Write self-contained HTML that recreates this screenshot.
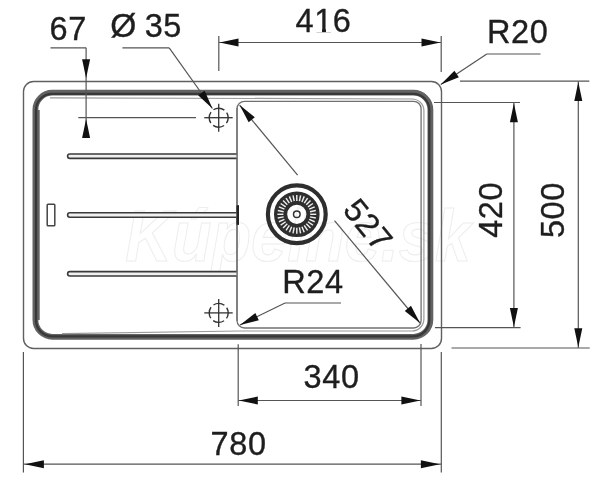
<!DOCTYPE html>
<html><head><meta charset="utf-8"><style>
html,body{margin:0;padding:0;background:#fff;width:600px;height:489px;overflow:hidden}
svg{display:block;filter:grayscale(1) blur(0.3px)}
text{font-family:"Liberation Sans",sans-serif;fill:#1e1e1e;stroke:#1e1e1e;stroke-width:0.35px;letter-spacing:0.6px}
</style></head><body>
<svg width="600" height="489" viewBox="0 0 600 489">
<text x="0" y="0" font-size="72" font-style="italic" font-weight="bold" text-anchor="middle" transform="translate(298,261) scale(0.9,1)" style="fill:none;stroke:#eeeeee;stroke-width:1.1;letter-spacing:0">Kúpelne.sk</text>
<rect x="23.5" y="81.5" width="418" height="267" rx="10" fill="none" stroke="#606060" stroke-width="1.4"/>
<rect x="35.4" y="92.7" width="395" height="244.1" rx="17" fill="none" stroke="#626262" stroke-width="5.8"/>
<line x1="38.7" y1="110" x2="38.7" y2="320" stroke="#606060" stroke-width="2"/>
<rect x="36.0" y="93.9" width="393.3" height="242.4" rx="16" fill="none" stroke="#383838" stroke-width="2.2"/>
<path d="M50,97.8 L412,99.0 A11.9,11.5 0 0 1 423.9,110.5 V319.1 A11.9,11.9 0 0 1 412,331 L240,331 L62,333.6" fill="none" stroke="#9a9a9a" stroke-width="1.2"/>
<rect x="237" y="101.3" width="184.1" height="226.7" rx="7.5" fill="none" stroke="#707070" stroke-width="1.3"/>
<rect x="236.6" y="205.4" width="2.4" height="19.3" fill="#222"/>
<path d="M237,154.00 H69.8 A2.2,2.2 0 0 0 69.8,158.40 H237" fill="#f0f0f0" stroke="#3a3a3a" stroke-width="1.6"/>
<path d="M237,212.80 H69.8 A2.2,2.2 0 0 0 69.8,217.20 H237" fill="#f0f0f0" stroke="#3a3a3a" stroke-width="1.6"/>
<path d="M237,271.60 H69.8 A2.2,2.2 0 0 0 69.8,276.00 H237" fill="#f0f0f0" stroke="#3a3a3a" stroke-width="1.6"/>
<line x1="237" y1="108" x2="237" y2="321" stroke="#707070" stroke-width="1.3"/>
<rect x="236.6" y="205.4" width="2.4" height="19.3" fill="#222"/>
<rect x="47.2" y="204.2" width="7.6" height="21.6" rx="0.8" fill="none" stroke="#444" stroke-width="1.5"/>
<circle cx="218.7" cy="117.7" r="9.5" fill="none" stroke="#333" stroke-width="1.4" stroke-dasharray="11.6 3.32" stroke-dashoffset="5.8"/>
<line x1="218.7" y1="103.7" x2="218.7" y2="131.7" stroke="#333" stroke-width="1.3"/>
<line x1="204.29999999999998" y1="117.7" x2="232.7" y2="117.7" stroke="#333" stroke-width="1.3"/>
<circle cx="218.7" cy="312.9" r="9.5" fill="none" stroke="#333" stroke-width="1.4" stroke-dasharray="11.6 3.32" stroke-dashoffset="5.8"/>
<line x1="218.7" y1="298.9" x2="218.7" y2="326.9" stroke="#333" stroke-width="1.3"/>
<line x1="204.29999999999998" y1="312.9" x2="232.7" y2="312.9" stroke="#333" stroke-width="1.3"/>
<circle cx="296.8" cy="214.3" r="28.9" fill="none" stroke="#2e2e2e" stroke-width="4.2"/>
<circle cx="296.8" cy="214.3" r="16.2" fill="none" stroke="#2e2e2e" stroke-width="13.2"/>
<line x1="310.20" y1="214.30" x2="316.20" y2="214.30" stroke="#eeeeee" stroke-width="1.45"/>
<line x1="309.94" y1="216.91" x2="315.83" y2="218.08" stroke="#eeeeee" stroke-width="1.45"/>
<line x1="309.18" y1="219.43" x2="314.72" y2="221.72" stroke="#eeeeee" stroke-width="1.45"/>
<line x1="307.94" y1="221.74" x2="312.93" y2="225.08" stroke="#eeeeee" stroke-width="1.45"/>
<line x1="306.28" y1="223.78" x2="310.52" y2="228.02" stroke="#eeeeee" stroke-width="1.45"/>
<line x1="304.24" y1="225.44" x2="307.58" y2="230.43" stroke="#eeeeee" stroke-width="1.45"/>
<line x1="301.93" y1="226.68" x2="304.22" y2="232.22" stroke="#eeeeee" stroke-width="1.45"/>
<line x1="299.41" y1="227.44" x2="300.58" y2="233.33" stroke="#eeeeee" stroke-width="1.45"/>
<line x1="296.80" y1="227.70" x2="296.80" y2="233.70" stroke="#eeeeee" stroke-width="1.45"/>
<line x1="294.19" y1="227.44" x2="293.02" y2="233.33" stroke="#eeeeee" stroke-width="1.45"/>
<line x1="291.67" y1="226.68" x2="289.38" y2="232.22" stroke="#eeeeee" stroke-width="1.45"/>
<line x1="289.36" y1="225.44" x2="286.02" y2="230.43" stroke="#eeeeee" stroke-width="1.45"/>
<line x1="287.32" y1="223.78" x2="283.08" y2="228.02" stroke="#eeeeee" stroke-width="1.45"/>
<line x1="285.66" y1="221.74" x2="280.67" y2="225.08" stroke="#eeeeee" stroke-width="1.45"/>
<line x1="284.42" y1="219.43" x2="278.88" y2="221.72" stroke="#eeeeee" stroke-width="1.45"/>
<line x1="283.66" y1="216.91" x2="277.77" y2="218.08" stroke="#eeeeee" stroke-width="1.45"/>
<line x1="283.40" y1="214.30" x2="277.40" y2="214.30" stroke="#eeeeee" stroke-width="1.45"/>
<line x1="283.66" y1="211.69" x2="277.77" y2="210.52" stroke="#eeeeee" stroke-width="1.45"/>
<line x1="284.42" y1="209.17" x2="278.88" y2="206.88" stroke="#eeeeee" stroke-width="1.45"/>
<line x1="285.66" y1="206.86" x2="280.67" y2="203.52" stroke="#eeeeee" stroke-width="1.45"/>
<line x1="287.32" y1="204.82" x2="283.08" y2="200.58" stroke="#eeeeee" stroke-width="1.45"/>
<line x1="289.36" y1="203.16" x2="286.02" y2="198.17" stroke="#eeeeee" stroke-width="1.45"/>
<line x1="291.67" y1="201.92" x2="289.38" y2="196.38" stroke="#eeeeee" stroke-width="1.45"/>
<line x1="294.19" y1="201.16" x2="293.02" y2="195.27" stroke="#eeeeee" stroke-width="1.45"/>
<line x1="296.80" y1="200.90" x2="296.80" y2="194.90" stroke="#eeeeee" stroke-width="1.45"/>
<line x1="299.41" y1="201.16" x2="300.58" y2="195.27" stroke="#eeeeee" stroke-width="1.45"/>
<line x1="301.93" y1="201.92" x2="304.22" y2="196.38" stroke="#eeeeee" stroke-width="1.45"/>
<line x1="304.24" y1="203.16" x2="307.58" y2="198.17" stroke="#eeeeee" stroke-width="1.45"/>
<line x1="306.28" y1="204.82" x2="310.52" y2="200.58" stroke="#eeeeee" stroke-width="1.45"/>
<line x1="307.94" y1="206.86" x2="312.93" y2="203.52" stroke="#eeeeee" stroke-width="1.45"/>
<line x1="309.18" y1="209.17" x2="314.72" y2="206.88" stroke="#eeeeee" stroke-width="1.45"/>
<line x1="309.94" y1="211.69" x2="315.83" y2="210.52" stroke="#eeeeee" stroke-width="1.45"/>
<circle cx="296.8" cy="214.3" r="3.3" fill="none" stroke="#333" stroke-width="1.5"/>
<line x1="218.8" y1="36" x2="218.8" y2="71" stroke="#555" stroke-width="1.2"/>
<line x1="441.2" y1="36" x2="441.2" y2="72" stroke="#555" stroke-width="1.2"/>
<line x1="219" y1="42.5" x2="441" y2="42.5" stroke="#555" stroke-width="1.2"/>
<path d="M219.50,42.50 L238.50,38.50 L238.50,46.50 Z" fill="#111"/>
<path d="M440.50,42.50 L421.50,46.50 L421.50,38.50 Z" fill="#111"/>
<line x1="50.5" y1="47.8" x2="86.1" y2="47.8" stroke="#555" stroke-width="1.2"/>
<line x1="86.1" y1="47.8" x2="86.1" y2="137.5" stroke="#555" stroke-width="1.2"/>
<path d="M86.10,78.30 L82.10,59.30 L90.10,59.30 Z" fill="#111"/>
<path d="M86.10,119.00 L90.10,138.00 L82.10,138.00 Z" fill="#111"/>
<line x1="78.3" y1="117.7" x2="196" y2="117.7" stroke="#555" stroke-width="1.2"/>
<line x1="122.4" y1="47.9" x2="169.2" y2="47.9" stroke="#555" stroke-width="1.2"/>
<line x1="169.2" y1="47.9" x2="212.4" y2="108.5" stroke="#555" stroke-width="1.2"/>
<path d="M212.40,108.50 L198.11,95.35 L204.63,90.71 Z" fill="#111"/>
<line x1="486.8" y1="54" x2="540.5" y2="54" stroke="#555" stroke-width="1.2"/>
<line x1="486.8" y1="54" x2="440.8" y2="84.5" stroke="#555" stroke-width="1.2"/>
<path d="M440.80,84.50 L454.42,70.67 L458.85,77.33 Z" fill="#111"/>
<line x1="460" y1="81.2" x2="589.3" y2="81.2" stroke="#555" stroke-width="1.2"/>
<line x1="451.5" y1="348" x2="589.7" y2="348" stroke="#555" stroke-width="1.2"/>
<line x1="578.3" y1="81.2" x2="578.3" y2="348" stroke="#555" stroke-width="1.2"/>
<path d="M578.30,82.00 L582.30,101.00 L574.30,101.00 Z" fill="#111"/>
<path d="M578.30,347.30 L574.30,328.30 L582.30,328.30 Z" fill="#111"/>
<line x1="434" y1="102.5" x2="520" y2="102.5" stroke="#555" stroke-width="1.2"/>
<line x1="435" y1="327.6" x2="520.6" y2="327.6" stroke="#555" stroke-width="1.2"/>
<line x1="513.9" y1="102.5" x2="513.9" y2="327.6" stroke="#555" stroke-width="1.2"/>
<path d="M513.90,103.20 L517.90,122.20 L509.90,122.20 Z" fill="#111"/>
<path d="M513.90,327.00 L509.90,308.00 L517.90,308.00 Z" fill="#111"/>
<line x1="238.2" y1="344.3" x2="238.2" y2="406" stroke="#555" stroke-width="1.2"/>
<line x1="421" y1="344" x2="421" y2="406" stroke="#555" stroke-width="1.2"/>
<line x1="238.2" y1="400.5" x2="421" y2="400.5" stroke="#555" stroke-width="1.2"/>
<path d="M238.80,400.50 L257.80,396.50 L257.80,404.50 Z" fill="#111"/>
<path d="M420.40,400.50 L401.40,404.50 L401.40,396.50 Z" fill="#111"/>
<line x1="23.4" y1="352" x2="23.4" y2="472.4" stroke="#555" stroke-width="1.2"/>
<line x1="441.3" y1="352" x2="441.3" y2="472.4" stroke="#555" stroke-width="1.2"/>
<line x1="23.4" y1="464.2" x2="441.3" y2="464.2" stroke="#555" stroke-width="1.2"/>
<path d="M24.90,464.20 L43.90,460.20 L43.90,468.20 Z" fill="#111"/>
<path d="M439.90,464.20 L420.90,468.20 L420.90,460.20 Z" fill="#111"/>
<line x1="239.6" y1="105.1" x2="297.6" y2="175.1" stroke="#555" stroke-width="1.2"/>
<line x1="334.5" y1="220.7" x2="420.0" y2="323.0" stroke="#555" stroke-width="1.2"/>
<path d="M239.60,105.10 L254.80,117.18 L248.64,122.29 Z" fill="#111"/>
<path d="M420.00,323.00 L404.80,310.92 L410.96,305.81 Z" fill="#111"/>
<line x1="285" y1="303" x2="341" y2="303" stroke="#555" stroke-width="1.2"/>
<line x1="285" y1="303" x2="240" y2="325" stroke="#555" stroke-width="1.2"/>
<path d="M240.00,325.00 L255.31,313.06 L258.83,320.25 Z" fill="#111"/>
<text x="49.5" y="40" font-size="32.5">67</text>
<text x="110.3" y="37.3" font-size="33.5">Ø</text>
<text x="144.7" y="37.3" font-size="32.5">35</text>
<text x="295.5" y="32.3" font-size="32.5">416</text>
<rect x="315.5" y="28.9" width="6.5" height="3.3" fill="#fff"/><rect x="326" y="28.9" width="5.6" height="3.3" fill="#fff"/>
<text x="487" y="43" font-size="32.5">R20</text>
<text x="282.2" y="293" font-size="32.5">R24</text>
<text x="303.6" y="388.4" font-size="32.5">340</text>
<text x="210.6" y="455" font-size="32.5">780</text>
<text transform="translate(502.2,237.8) rotate(-90)" font-size="32.5">420</text>
<text transform="translate(564,238.1) rotate(-90)" font-size="32.5">500</text>
<text transform="translate(368,225) rotate(50.4)" font-size="32.5" text-anchor="middle" dominant-baseline="central">527</text>
</svg>
</body></html>
